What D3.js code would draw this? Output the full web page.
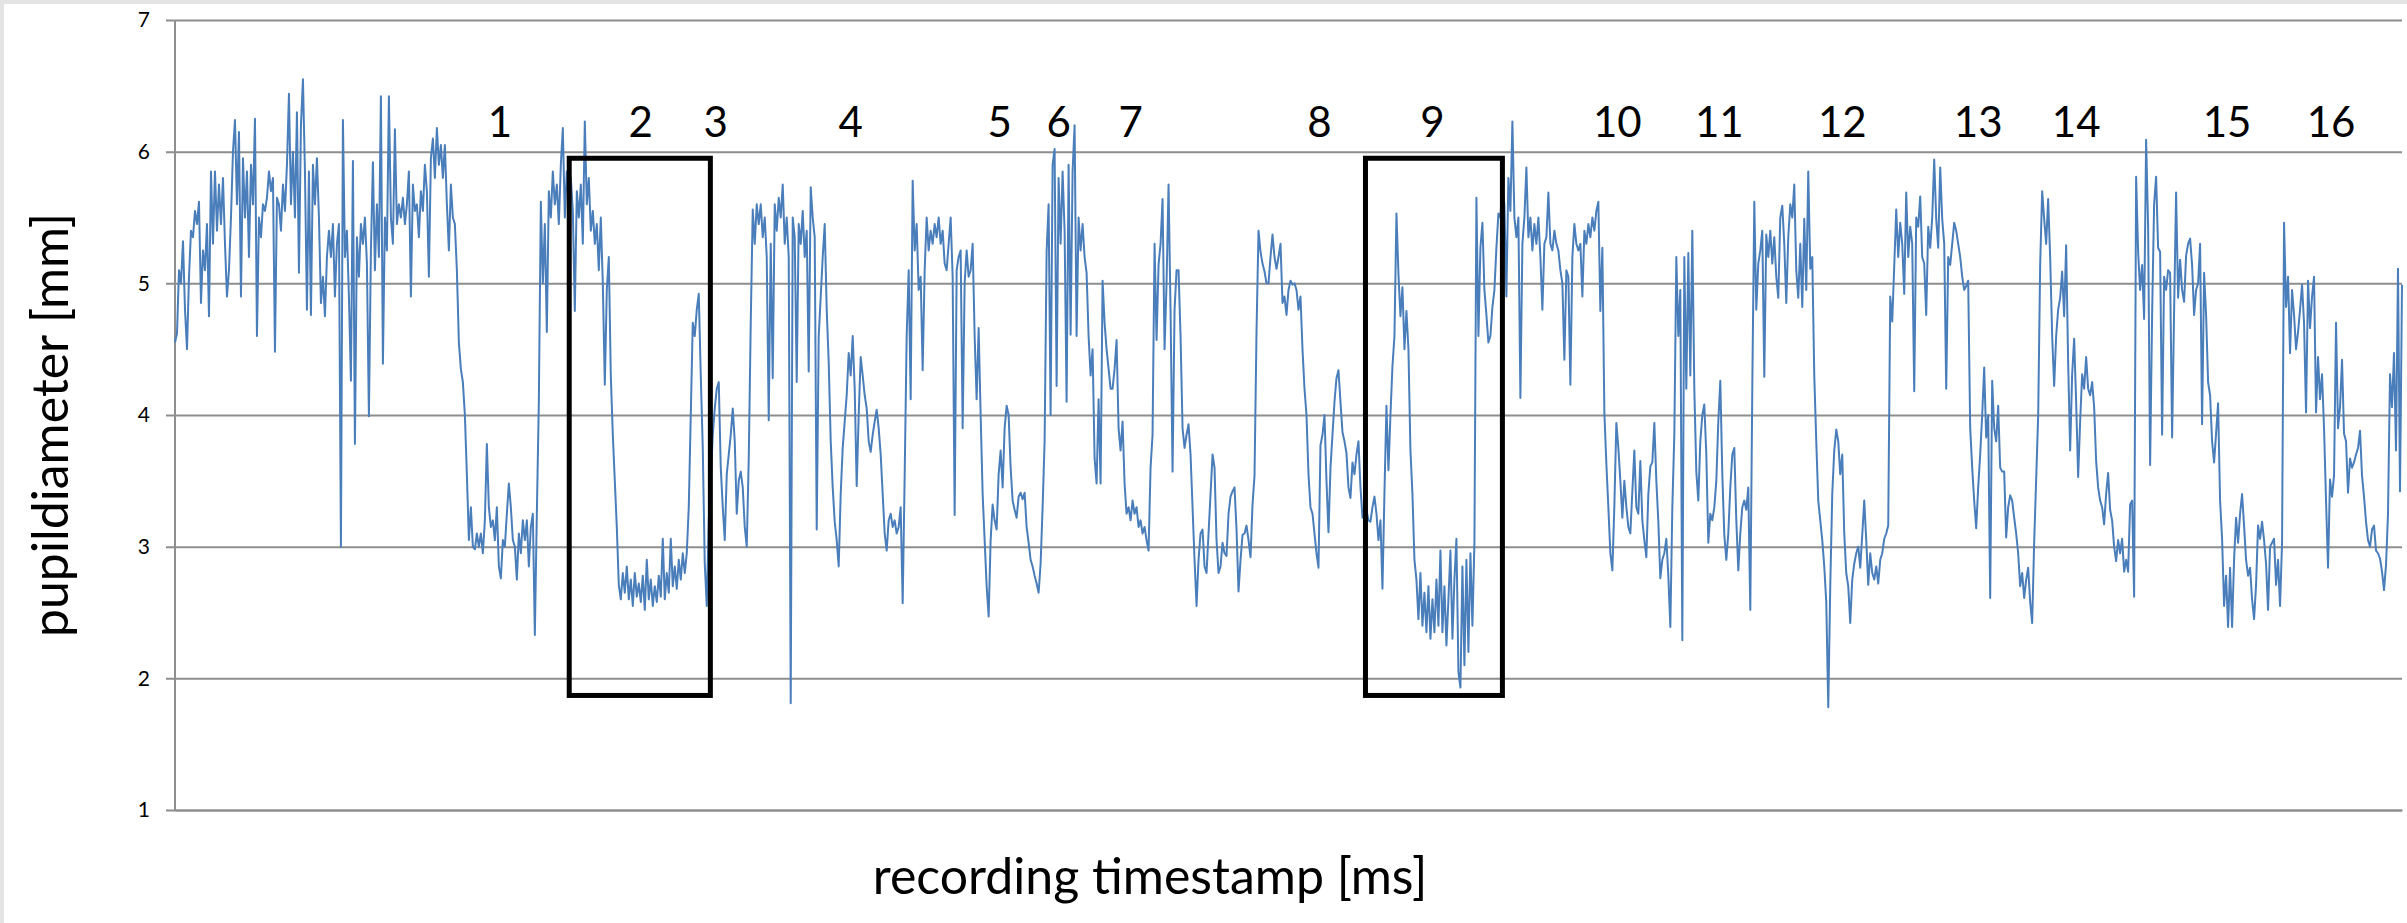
<!DOCTYPE html>
<html>
<head>
<meta charset="utf-8">
<script src="https://cdnjs.cloudflare.com/ajax/libs/d3/7.8.5/d3.min.js"></script>
<style>
  html, body { margin: 0; padding: 0; background: #fff; }
  #container { width: 2407px; height: 923px; position: relative; }
  text { font-family: Lato, 'Open Sans', sans-serif; fill: #000; }
</style>
</head>
<body>
<div id="container"></div>
<script>
// one pupil sample every 500 ms
const sampleMs = 500;

const pupil1 = [4.55,4.62,5.1,5.0,5.32,4.8,4.5,5.05,5.4,5.35,
  5.55,5.45,5.62,4.85,5.25,5.1,5.45,4.75,5.85,5.3,
  5.85,5.4,5.75,5.45,5.8,5.3,4.9,5.1,5.5,6.0,
  6.24,5.6,6.15,4.9,5.95,5.5,5.85,5.2,5.9,5.6,
  6.25,4.6,5.5,5.35,5.6,5.55,5.65,5.85,5.7,5.8,
  4.48,5.65,5.6,5.4,5.75,5.55,5.9,6.44,5.6,6.0,
  5.5,6.3,5.08,6.2,6.55,5.85,4.8,5.85,4.76,5.9,
  5.6,5.95,5.5,4.85,5.05,4.75,5.2,5.4,5.2,5.45,
  4.9,5.3,5.45,3.0,6.24,5.2,5.4,4.9,4.26,5.93,
  3.78,5.35,5.05,5.45,5.3,5.5,5.15,3.99,5.25,5.92,
  5.1,5.6,5.2,6.42,4.39,5.5,5.25,6.42,5.5,5.3,
  6.17,5.45,5.6,5.5,5.65,5.45,5.6,5.85,4.9,5.75,
  5.55,5.6,5.35,5.7,5.55,5.9,5.7,5.05,5.95,6.1,
  5.8,6.18,5.9,6.05,5.8,6.05,5.6,5.25,5.75,5.5,
  5.45,5.1,4.55,4.35,4.25,4.0,3.55,3.05,3.3,3.0,
  2.98,3.1,3.0,3.1,2.95,3.2,3.78,3.3,3.15,3.2,
  3.05,3.3,2.85,2.76,3.05,3.0,3.25,3.48,3.3,3.05,
  3.0,2.75,3.1,2.95,3.2,3.05,3.2,2.85,3.15,3.25,
  2.33,3.25,4.1,5.62,5.0,5.45];

const pupil2 = [4.63,5.7,5.5,5.85,5.6,5.75,5.45,5.9,6.18,5.5,
  5.85,5.6,5.8,5.55,4.79,5.7,5.5,5.75,5.3,6.23,
  5.6,5.8,5.4,5.55,5.3,5.45,5.1,5.5,5.0,4.23,
  4.95,5.2,4.3,3.85,3.5,3.15,2.71,2.6,2.8,2.65,
  2.85,2.6,2.75,2.55,2.8,2.62,2.72,2.58,2.78,2.52,
  2.9,2.6,2.75,2.55,2.7,2.58,2.78,2.62,3.06,2.6,
  2.8,2.65,3.06,2.7,2.85,2.68,2.9,2.75,2.95,2.8,
  2.95,3.3,4.0,4.7,4.6,4.8,4.92,4.3,3.75,2.87,
  2.55,3.2,3.5,3.85,4.05,4.2,4.25,3.6,3.3,3.05,
  3.55,3.7,3.85,4.05,3.8,3.25,3.5,3.57,3.45,3.15,
  3.0,3.67,4.7,5.56,5.3,5.6,5.45,5.6,5.35,5.5,
  5.2,3.96,5.3,4.28,5.6,5.4,5.65,5.5,5.75,5.3,
  5.5,5.2,1.81,5.5,5.35,4.25,5.45,5.3,5.55,5.2,
  5.4,4.33,5.73,5.5,5.35,3.13,4.6,4.9,5.2,5.45,
  4.8,4.4,3.8,3.45,3.19,3.05,2.85,3.4,3.75,3.95,
  4.15,4.47,4.3,4.6,4.2,3.46,4.0,4.44,4.3,4.15,
  4.05,3.8,3.72,3.85,3.95,4.04,3.9,3.7,3.4,3.1,
  2.97,3.2,3.25,3.15,3.2,3.1,3.15,3.3,2.57,3.54,
  4.6,5.1,4.12,5.78,5.25,5.45,4.95];

const pupil3 = [5.05,4.34,5.1,5.5,5.25,5.4,5.3,5.45,5.35,5.5,
  5.3,5.4,5.15,5.1,5.3,5.5,5.05,3.24,5.1,5.2,
  5.25,3.9,5.0,5.25,5.05,5.1,5.3,4.6,4.12,4.66,
  4.0,3.4,3.05,2.7,2.47,3.05,3.32,3.2,3.13,3.55,
  3.73,3.45,3.9,4.07,4.0,3.6,3.35,3.28,3.22,3.38,
  3.41,3.36,3.41,3.15,3.03,2.9,2.85,2.78,2.72,2.65,
  2.87,3.3,3.8,5.24,5.6,4.0,5.9,6.02,4.22,5.8,
  5.3,5.85,5.4,4.1,5.9,4.61,5.85,6.2,4.6,5.5,
  5.25,5.45,5.2,5.08,4.6,4.3,4.5,3.67,3.48,4.12,
  3.48,5.02,4.7,4.5,4.35,4.2,4.2,4.35,4.57,3.9,
  3.73,3.95,3.48,3.25,3.3,3.2,3.35,3.25,3.3,3.15,
  3.2,3.1,3.15,3.05,2.97,3.6,3.85,5.3,4.57,5.14,
  5.3,5.64,4.5,5.0,5.75,4.79,3.57,4.8,5.1,5.1,
  4.6,3.9,3.75,3.85,3.93,3.7,3.3,2.9,2.55,2.9,
  3.1,3.13,2.85,2.8,3.1,3.4,3.7,3.6,3.05,2.8,
  2.85,3.03,2.95,2.93,3.25,3.38,3.42,3.45,3.13,2.66,
  2.9,3.09,3.1,3.16,3.05,2.92,3.32,3.54,4.63,5.4,
  5.24,5.15,5.09,5.0,5.0,5.2,5.37,5.2,5.11,5.2,
  5.3,4.85,4.9,4.76,4.95,5.02,4.99,5.0];

const pupil4 = [4.95,4.8,4.9,4.5,4.2,4.0,3.55,3.3,3.25,3.1,
  2.95,2.84,3.77,3.85,4.0,3.5,3.11,3.6,3.85,4.1,
  4.28,4.34,4.1,3.87,3.8,3.71,3.45,3.37,3.64,3.55,
  3.7,3.8,3.45,3.22,3.3,3.28,3.2,3.19,3.3,3.38,
  3.25,3.05,3.2,2.68,3.41,4.07,3.58,4.0,4.37,4.6,
  5.53,5.07,4.75,4.97,4.5,4.79,4.5,3.73,3.4,2.9,
  2.75,2.45,2.8,2.4,2.65,2.35,2.7,2.3,2.6,2.35,
  2.75,2.4,2.97,2.35,2.7,2.25,2.6,2.97,2.3,2.75,
  3.06,2.05,1.93,2.85,2.1,2.9,2.2,2.95,2.4,3.03,
  5.65,4.6,5.27,5.46,4.95,4.76,4.55,4.6,4.82,4.95,
  5.27,5.53,5.5,5.75,5.6,4.9,5.8,5.55,6.23,5.5,
  5.35,5.5,4.13,5.3,5.5,5.88,5.35,5.5,5.25,5.45,
  5.3,5.5,5.2,4.8,5.3,5.35,5.69,5.3,5.25,5.4,
  5.3,5.25,5.1,5.0,4.42,5.1,5.05,4.23,5.2,5.45,
  5.3,5.25,5.3,4.9,5.4,5.3,5.45,5.35,5.5,5.4,
  5.55,5.62,4.79,5.27,4.02,3.63,3.3,2.95,2.82,3.31,
  3.94,3.75,3.5,3.22,3.5,3.3,3.15,3.1,3.42,3.73,
  3.3,3.25,3.65,3.2,3.05,2.92,3.4,3.61,3.64,3.94,
  3.5,3.19,2.76,2.9,2.95,3.06,2.78];

const pupil5 = [2.39,3.3,3.85,5.2,4.6,4.95,2.29,5.2,4.2,5.23,
  4.3,5.4,4.2,3.57,3.35,3.8,4.0,4.08,3.7,3.03,
  3.25,3.2,3.3,3.5,3.95,4.26,3.55,3.09,2.9,3.1,
  3.45,3.7,3.75,3.2,2.82,3.1,3.3,3.35,3.28,3.45,
  2.52,4.2,5.62,4.8,5.15,5.25,5.4,4.29,5.37,5.2,
  5.4,5.15,5.35,5.05,4.89,5.5,5.59,5.3,4.85,5.35,
  5.6,5.5,5.75,5.1,4.89,5.3,4.82,5.49,4.95,5.85,
  5.11,5.2,4.3,3.8,3.35,3.2,3.05,2.85,2.58,1.78,
  2.7,3.4,3.73,3.89,3.8,3.55,3.7,3.1,2.8,2.7,
  2.42,2.75,2.87,2.95,3.0,2.84,3.09,3.35,3.05,2.71,
  2.95,2.8,2.75,2.85,2.72,2.9,2.95,3.06,3.1,3.16,
  4.9,4.71,5.13,5.56,5.2,5.46,5.3,4.92,5.69,5.2,
  5.43,5.3,4.18,5.5,5.43,5.66,5.2,5.15,4.76,5.43,
  5.27,5.5,5.94,5.49,5.27,5.88,5.49,5.3,4.2,5.2,
  5.14,5.3,5.46,5.4,5.3,5.2,5.05,4.95,4.98,5.02,
  3.9,3.6,3.35,3.14,3.45,3.7,4.0,4.36,3.83,4.0,
  2.61,4.26,3.9,3.8,4.07,3.6,3.57,3.57,3.07,3.3,
  3.39,3.35,3.22,3.1,2.95,2.7,2.8,2.61,2.75,2.84,
  2.58,2.42,3.03,3.51,3.99,5.14,5.7,5.49];

const pupil6 = [5.3,5.64,5.2,4.6,4.22,4.6,4.8,4.89,5.09,4.75,
  5.29,4.4,3.73,4.31,4.58,4.1,3.53,3.95,4.31,4.2,
  4.44,4.2,4.15,4.25,4.06,3.65,3.45,3.35,3.3,3.17,
  3.4,3.56,3.28,3.2,3.0,2.89,3.05,2.95,3.06,2.81,
  2.9,2.81,3.32,3.35,2.62,5.81,5.24,4.95,5.14,4.73,
  6.09,5.43,3.62,4.76,5.6,5.81,5.27,5.24,3.85,5.05,
  4.95,5.1,5.08,3.83,4.79,5.69,4.89,5.18,4.95,4.86,
  5.21,5.3,5.34,5.14,4.76,4.95,5.0,5.3,3.93,5.08,
  4.76,4.25,4.15,3.8,3.64,3.86,4.09,3.35,3.06,2.55,
  2.78,2.39,2.84,2.39,2.9,3.22,3.03,3.25,3.4,3.16,
  2.9,2.78,2.84,2.6,2.45,2.71,3.16,3.06,3.19,3.05,
  2.87,2.52,3.0,3.03,3.06,2.71,2.9,2.55,3.03,5.46,
  4.82,5.05,4.47,4.95,4.76,4.5,4.63,4.8,4.99,4.7,
  4.02,5.02,4.66,4.9,5.05,4.02,4.44,4.12,4.31,3.9,
  3.35,2.84,3.51,3.38,3.54,4.7,3.9,4.06,4.42,3.86,
  3.8,3.41,3.67,3.6,3.64,3.7,3.75,3.88,3.54,3.38,
  3.19,3.05,3.0,3.13,3.16,2.97,2.95,2.91,2.81,2.67,
  2.86,3.25,4.31,4.06,4.47,3.73,5.11,3.42,4.99];

const pupil = pupil1.concat(pupil2, pupil3, pupil4, pupil5, pupil6);

// trial numbers written above the trace, with the time they sit at
const trialLabels = ['1','2','3','4','5','6','7','8','9','10','11','12','13','14','15','16'];
const trialTimes = [81250,116500,135250,169000,206250,221000,239000,286250,314500,360750,386250,417000,451000,475500,513250,539250];
const trialLabelLevel = 6.11;

// the two highlighted trials
const boxStart = [98600, 297750];
const boxEnd = [133900, 332000];
const boxTop = 5.95, boxBottom = 1.87;

const yTicks = [1, 2, 3, 4, 5, 6, 7];

const W = 2407, H = 923,
  plot = { left: 175, right: 2402, top: 20, bottom: 810, tickOut: 9 };

const svg = d3.select('#container')
  .append('svg')
    .attr('width', W)
    .attr('height', H);

// pale frame along the top and left edge
svg.append('rect').attr('x', 0).attr('y', 0).attr('width', W).attr('height', 4).attr('fill', '#e4e4e4');
svg.append('rect').attr('x', 0).attr('y', 0).attr('width', 4).attr('height', H).attr('fill', '#e4e4e4');

const x = d3.scaleLinear()
  .domain([0, (pupil.length - 1) * sampleMs])
  .range([plot.left, plot.right]);

const y = d3.scaleLinear()
  .domain([1, 7])
  .range([plot.bottom, plot.top]);

// y axis: gridlines run through the plot and stick out a little on the left
const yAxis = d3.axisLeft(y)
  .tickValues(yTicks)
  .tickSize(-(plot.right - plot.left + plot.tickOut))
  .tickPadding(16)
  .tickFormat(d3.format('d'));

const gy = svg.append('g')
  .attr('transform', `translate(${plot.left - plot.tickOut},0)`)
  .call(yAxis);
gy.select('.domain').remove();
gy.selectAll('.tick line')
  .attr('stroke', '#8e8e8e')
  .attr('stroke-width', 2);
gy.selectAll('.tick text')
  .attr('font-size', 21)
  .attr('font-family', 'Lato, sans-serif')
  .attr('fill', '#000');

const xAxis = d3.axisBottom(x).tickValues([]).tickSizeOuter(0);
svg.append('g')
  .attr('transform', `translate(0,${plot.bottom})`)
  .call(xAxis)
  .select('.domain')
    .attr('stroke', '#8e8e8e')
    .attr('stroke-width', 2);

svg.append('line')
  .attr('x1', plot.left).attr('x2', plot.left)
  .attr('y1', plot.top).attr('y2', plot.bottom)
  .attr('stroke', '#8e8e8e')
  .attr('stroke-width', 2);

const line = d3.line()
  .x((d, i) => x(i * sampleMs))
  .y(d => y(d));

svg.append('path')
  .datum(pupil)
  .attr('fill', 'none')
  .attr('stroke', '#4a7ebb')
  .attr('stroke-width', 2)
  .attr('stroke-linejoin', 'round')
  .attr('d', line);

svg.append('g')
  .selectAll('rect')
  .data(boxStart)
  .enter()
  .append('rect')
    .attr('x', d => x(d))
    .attr('y', y(boxTop))
    .attr('width', (d, i) => x(boxEnd[i]) - x(d))
    .attr('height', y(boxBottom) - y(boxTop))
    .attr('fill', 'none')
    .attr('stroke', '#000')
    .attr('stroke-width', 5);

svg.append('g')
  .selectAll('text')
  .data(trialLabels)
  .enter()
  .append('text')
    .attr('x', (d, i) => x(trialTimes[i]))
    .attr('y', y(trialLabelLevel))
    .attr('text-anchor', 'middle')
    .attr('font-size', 42)
    .text(d => d);

svg.append('text')
  .attr('x', 1150)
  .attr('y', 894)
  .attr('text-anchor', 'middle')
  .attr('font-size', 50)
  .text('recording timestamp [ms]');

svg.append('text')
  .attr('transform', 'translate(68,425) rotate(-90)')
  .attr('text-anchor', 'middle')
  .attr('font-size', 50)
  .text('pupildiameter [mm]');
</script>
</body>
</html>
